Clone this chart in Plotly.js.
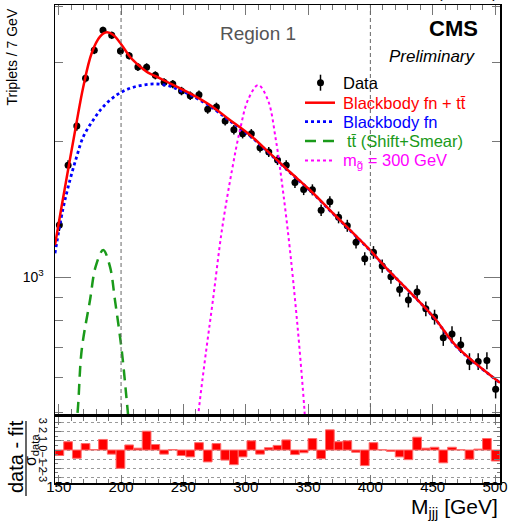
<!DOCTYPE html>
<html>
<head>
<meta charset="utf-8">
<script src="https://cdn.plot.ly/plotly-3.0.1.min.js"></script>
<style>html,body{margin:0;padding:0;background:#fff;}#chart{width:509px;height:521px;}</style>
</head>
<body>
<div id="chart"></div>
<script>
// ---- data ----
var binCenters = [150.5,157.5,164.5,171.5,178.5,185.5,192.5,199.5,206.5,213.5,220.5,227.5,234.5,241.5,248.5,255.5,262.5,269.5,276.5,283.5,290.5,297.5,304.5,311.5,318.5,325.5,332.5,339.5,346.5,353.5,360.5,367.5,374.5,381.5,388.5,395.5,402.5,409.5,416.5,423.5,430.5,437.5,444.5,451.5,458.5,465.5,472.5,479.5,486.5,493.5,500.5];
var dataCounts = [1307,1774,2169,2769,3195,3538,3449,3184,3108,2934,2929,2811,2713,2689,2594,2532,2545,2362,2390,2225,2128,2085,2085,1941,1899,1823,1774,1624,1567,1565,1410,1472,1359,1302,1196,1100,1136,1060,1003,940,890,927,851,816,734,748,708,650,650,653,564];
var dataErrors = [40,46,51,58,62,65,65,62,61,60,60,58,57,57,56,55,55,53,54,52,51,50,50,48,48,47,46,44,44,44,41,42,41,40,38,37,37,36,35,34,33,33,32,31,30,30,29,28,28,28,26];
var pulls = [-0.6,0.9,-0.9,0.7,0.05,1.15,-0.45,-2.0,0.55,0.2,2.05,0.6,-0.45,0.05,-0.6,-0.75,0.8,-1.3,0.7,-1.1,-1.6,-0.75,1.0,-0.45,0.25,0.5,1.1,-0.5,-0.3,1.25,-0.95,2.2,0.9,1.0,-0.25,-1.7,0.8,0.03,-0.15,-0.75,-1.05,1.4,0.2,0.3,-1.4,0.3,0.03,-1.0,0.1,1.25,-1.2];

var fitX = [147,151.8,163.8,169.7,176.4,183.1,188.5,193.8,200.5,207.1,213.8,220.5,231.2,244.6,255.3,271.3,287.3,303.4,319.4,335.5,351.5,367.5,383.6,399.6,413,450.4,469.3,504];
var fitY = [1180,1411,2169,2652,3147,3425,3503,3455,3283,3092,2964,2863,2768,2652,2564,2415,2237,2071,1886,1714,1563,1411,1274,1150,1047,818,701,583];

var bbX = [147,153.2,159,164.4,169.7,177.7,185.7,196.5,207.1,217.8,228.6,239.2,247.2,255.3,271.3,287.3,303.4,319.4,335.5,351.5,367.5,383.6,399.6,413,450.4,469.3,504];
var bbY = [1131,1411,1645,1854,2053,2237,2394,2542,2630,2675,2689,2660,2600,2545,2400,2225,2062,1880,1710,1560,1408,1272,1148,1046,817,700,583];

var ttX = [160,165,168.4,175.1,179.6,185.7,191.1,195.1,200.5,204.5,208];
var ttY = [380,497,689,890,1056,1150,1056,890,689,534,420];

var sigX = [259.5,262,267.3,273.7,280.9,289,295.4,301.8,310,317.8,324.2,329.8,335.5,341.1,345.9,348.3,350];
var sigY = [420,497,655,890,1274,1731,2125,2477,2674,2477,2019,1563,1150,804,562,458,410];

var xTickVals = [150,200,250,300,350,400,450,500];
var yMinorVals = [500,600,700,800,900,2000,3000,4000];
var pullTicks = [-3,-2,-1,0,1,2,3];

var legendLabels = ['Data', 'Blackbody fn + t\u0074\u0304', 'Blackbody fn', 't\u0074\u0304 (Shift+Smear)', 'm<sub>g\u0303</sub> = 300 GeV'];

// ---- styling ----
var FONT = 'Liberation Sans, Arial, Helvetica, sans-serif';
var RED = '#ff0000', BLUE = '#0000ff', GREEN = '#1a9a1a', MAG = '#ff00ff';
var W = 509, H = 521, ML = 55, MR = 9, MT = 5, MB = 38;
var PW = W - ML - MR, PH = H - MT - MB;
function px2x(px) { return (px - ML) / PW; }
function py2y(py) { return (H - MB - py) / PH; }

var traces = [
  {x: binCenters, y: dataCounts, type: 'scatter', mode: 'markers', name: legendLabels[0],
   marker: {color: '#000', size: 7},
   error_y: {type: 'data', array: dataErrors, visible: true, color: '#000', thickness: 1.5, width: 0},
   xaxis: 'x', yaxis: 'y'},
  {x: ttX, y: ttY, type: 'scatter', mode: 'lines', name: legendLabels[3],
   line: {color: GREEN, width: 2.5, dash: '11px,7px', shape: 'spline'}, xaxis: 'x', yaxis: 'y'},
  {x: sigX, y: sigY, type: 'scatter', mode: 'lines', name: legendLabels[4],
   line: {color: MAG, width: 2, dash: 'dot', shape: 'spline'}, xaxis: 'x', yaxis: 'y'},
  {x: bbX, y: bbY, type: 'scatter', mode: 'lines', name: legendLabels[2],
   line: {color: BLUE, width: 2.8, dash: 'dot', shape: 'spline'}, xaxis: 'x', yaxis: 'y'},
  {x: fitX, y: fitY, type: 'scatter', mode: 'lines', name: legendLabels[1],
   line: {color: RED, width: 2.5, shape: 'spline'}, xaxis: 'x', yaxis: 'y'},
  {x: binCenters, y: pulls, type: 'bar', width: 7,
   marker: {color: RED, line: {color: '#ff6a6a', width: 1}}, xaxis: 'x2', yaxis: 'y2'},
  // invisible carrier so the label-only axis is drawn
  {x: [binCenters[0]], y: [0], type: 'scatter', mode: 'markers', marker: {opacity: 0},
   hoverinfo: 'skip', xaxis: 'x3', yaxis: 'y2'}
];

var axCommon = {
  showline: true, linecolor: '#000', linewidth: 1.5, mirror: 'ticks', zeroline: false, showgrid: false,
  ticks: 'inside', tickcolor: '#777', tickwidth: 1
};

// manual legend (symbols as shapes, labels as annotations)
var legRows = [82.7, 102.7, 121.7, 141, 160.5];
var legColors = ['#000', RED, BLUE, GREEN, MAG];
var legDash = [null, 'solid', 'dot', '11px,7px', 'dot'];
var legWidth = [0, 2.5, 2.8, 2.5, 2];
var legShapes = [];
var legAnn = [];
for (var i = 0; i < legRows.length; i++) {
  var yy = py2y(legRows[i]);
  if (i === 0) {
    legShapes.push({type: 'line', xref: 'paper', yref: 'paper', x0: px2x(320.5), x1: px2x(320.5),
      y0: py2y(legRows[i] + 8), y1: py2y(legRows[i] - 8), line: {color: '#000', width: 1.5}});
    legShapes.push({type: 'circle', xref: 'paper', yref: 'paper', x0: px2x(317), x1: px2x(324),
      y0: py2y(legRows[i] + 3.5), y1: py2y(legRows[i] - 3.5), fillcolor: '#000', line: {color: '#000', width: 0}});
  } else {
    legShapes.push({type: 'line', xref: 'paper', yref: 'paper', x0: px2x(305), x1: px2x(335), y0: yy, y1: yy,
      line: {color: legColors[i], width: legWidth[i], dash: legDash[i]}});
  }
  legAnn.push({text: legendLabels[i], xref: 'paper', yref: 'paper', x: px2x(i === 3 ? 345 : 341), y: yy,
    xanchor: 'left', yanchor: 'middle', showarrow: false,
    font: {family: FONT, size: 16.5, color: legColors[i]}});
}

var layout = {
  width: W, height: H,
  margin: {l: ML, r: MR, t: MT, b: MB},
  paper_bgcolor: '#fff', plot_bgcolor: '#fff',
  font: {family: FONT, color: '#000'},
  bargap: 0,
  showlegend: false,
  xaxis: Object.assign({}, axCommon, {
    domain: [0, 1], anchor: 'y', range: [147, 504], showticklabels: false,
    tickmode: 'array', tickvals: xTickVals, ticklen: 10,
    minor: {ticks: 'inside', ticklen: 5, tick0: 150, dtick: 10, tickcolor: '#777'}
  }),
  yaxis: Object.assign({}, axCommon, {
    domain: [py2y(414), 1], anchor: 'x', type: 'log', range: [2.6962, 3.6051],
    tickmode: 'array', tickvals: [1000], ticktext: ['10<sup>3</sup>'], ticklen: 16,
    tickfont: {size: 14, family: FONT}, ticklabelstandoff: 7,
    minor: {ticks: 'inside', ticklen: 8, tickmode: 'array', tickvals: yMinorVals, tickcolor: '#777'}
  }),
  xaxis2: Object.assign({}, axCommon, {
    domain: [0, 1], anchor: 'y2', range: [147, 504], showticklabels: false,
    tickmode: 'array', tickvals: xTickVals, ticklen: 8,
    minor: {ticks: 'inside', ticklen: 4, tick0: 150, dtick: 10, tickcolor: '#777'}
  }),
  xaxis3: {
    overlaying: 'x2', anchor: 'free', position: py2y(476), side: 'bottom',
    range: [147, 504], showline: false, ticks: '', showgrid: false, zeroline: false,
    tickmode: 'array', tickvals: xTickVals, tickfont: {size: 15, family: FONT, color: '#000'}
  },
  yaxis2: Object.assign({}, axCommon, {
    domain: [0, py2y(417)], anchor: 'x2', range: [-3.6, 3.6],
    tickmode: 'array', tickvals: pullTicks, ticklen: 6, tickangle: 90,
    tickfont: {size: 11, family: FONT}, ticklabelstandoff: 1,
    showgrid: true, gridcolor: '#9a9a9a', griddash: 'dot', gridwidth: 1,
    minor: {ticks: 'inside', ticklen: 3, tick0: 0, dtick: 0.5, tickcolor: '#777'}
  }),
  shapes: [
    {type: 'line', xref: 'x', yref: 'y domain', x0: 200, x1: 200, y0: 0, y1: 1,
     line: {color: '#666', width: 1, dash: '4px,3px'}},
    {type: 'line', xref: 'x', yref: 'y domain', x0: 400, x1: 400, y0: 0, y1: 1,
     line: {color: '#666', width: 1, dash: '4px,3px'}},
    {type: 'line', xref: 'paper', yref: 'paper', x0: px2x(26), x1: px2x(26), y0: py2y(496), y1: py2y(421),
     line: {color: '#000', width: 1.2}}
  ].concat(legShapes),
  annotations: [
    {text: 'Region 1', xref: 'paper', yref: 'paper', x: px2x(258), y: py2y(33), xanchor: 'center', yanchor: 'middle',
     showarrow: false, font: {family: FONT, size: 19, color: '#555'}},
    {text: '<b>CMS</b>', xref: 'paper', yref: 'paper', x: px2x(480), y: py2y(28), xanchor: 'right', yanchor: 'middle',
     showarrow: false, font: {family: FONT, size: 22, color: '#000'}},
    {text: '<i>Preliminary</i>', xref: 'paper', yref: 'paper', x: px2x(478), y: py2y(57), xanchor: 'right', yanchor: 'middle',
     showarrow: false, font: {family: FONT, size: 17, color: '#000'}},
    {text: '35.9 fb<sup>-1</sup> (13 TeV)', xref: 'paper', yref: 'paper', x: 1.0, y: py2y(3), xanchor: 'right', yanchor: 'bottom',
     showarrow: false, font: {family: FONT, size: 16, color: '#000'}},
    {text: 'Triplets / 7 GeV', xref: 'paper', yref: 'paper', x: px2x(12), y: py2y(7), xanchor: 'center', yanchor: 'top',
     textangle: -90, showarrow: false, font: {family: FONT, size: 14, color: '#000'}},
    {text: 'M<sub>jjj</sub> [GeV]', xref: 'paper', yref: 'paper', x: 1.0, y: py2y(493), xanchor: 'right', yanchor: 'top',
     showarrow: false, font: {family: FONT, size: 21, color: '#000'}},
    {text: 'data - fit', xref: 'paper', yref: 'paper', x: px2x(16), y: py2y(457), xanchor: 'center', yanchor: 'middle',
     textangle: -90, showarrow: false, font: {family: FONT, size: 20, color: '#000'}},
    {text: '\u03c3<sub>data</sub>', xref: 'paper', yref: 'paper', x: px2x(31), y: py2y(450), xanchor: 'center', yanchor: 'middle',
     textangle: -90, showarrow: false, font: {family: FONT, size: 16, color: '#000'}}
  ].concat(legAnn)
};

Plotly.newPlot('chart', traces, layout, {displayModeBar: false, staticPlot: true});
</script>
</body>
</html>
